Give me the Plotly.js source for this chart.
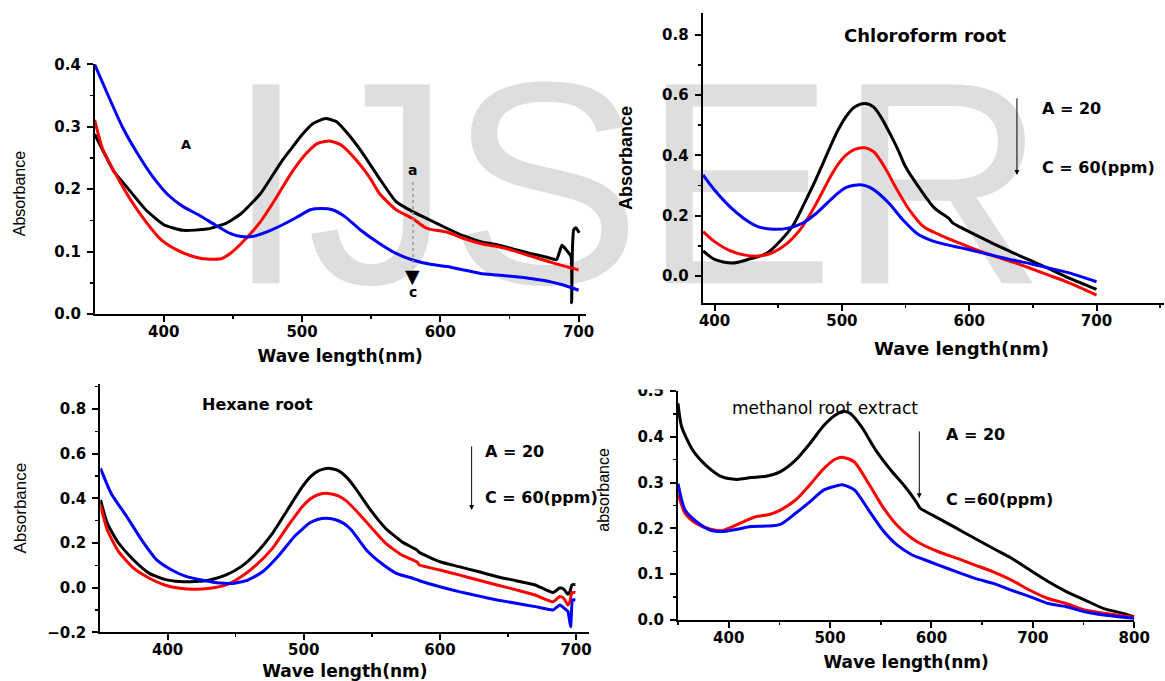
<!DOCTYPE html>
<html>
<head>
<meta charset="utf-8">
<script src="https://cdn.plot.ly/plotly-3.0.1.min.js"></script>
<style>
html, body { margin: 0; padding: 0; background: #ffffff; }
#chart { width: 1165px; height: 681px; }
</style>
</head>
<body>
<div id="chart"></div>
<script>
// ---------- Panel A (top-left): wavelength (nm) / absorbance ----------
const pAblackX = [350, 356, 364, 373, 387, 400, 414, 431, 445, 456, 470, 486, 494, 500, 508, 517, 525, 533, 544, 556, 568, 580, 592, 605, 617, 629, 641, 653, 665, 677, 684, 686, 688, 691, 694.5, 695, 695.5, 696.5, 698, 700.5];
const pAblackY = [0.288, 0.262, 0.228, 0.204, 0.167, 0.143, 0.134, 0.136, 0.145, 0.161, 0.193, 0.247, 0.270, 0.287, 0.305, 0.313, 0.308, 0.289, 0.257, 0.217, 0.180, 0.164, 0.151, 0.137, 0.125, 0.116, 0.111, 0.104, 0.097, 0.091, 0.087, 0.098, 0.110, 0.103, 0.092, 0.018, 0.100, 0.135, 0.138, 0.130];
const pAredX = [350, 356, 365, 376, 387, 398, 409, 420, 431, 442, 448, 456, 470, 481, 492, 503, 511, 520, 528, 539, 550, 556, 568, 580, 588, 592, 605, 617, 629, 641, 653, 665, 677, 689, 700];
const pAredY = [0.311, 0.263, 0.225, 0.183, 0.148, 0.119, 0.103, 0.093, 0.088, 0.089, 0.097, 0.113, 0.148, 0.185, 0.225, 0.257, 0.273, 0.277, 0.271, 0.247, 0.215, 0.193, 0.167, 0.153, 0.140, 0.136, 0.131, 0.121, 0.113, 0.108, 0.1015, 0.093, 0.085, 0.077, 0.0705];
const pAblueX = [350, 359, 370, 381, 392, 403, 414, 425, 437, 448, 456, 464, 475, 486, 497, 506, 514, 522, 531, 542, 556, 568, 580, 592, 605, 617, 629, 641, 653, 665, 677, 689, 700];
const pAblueY = [0.400, 0.354, 0.300, 0.257, 0.220, 0.191, 0.172, 0.159, 0.143, 0.129, 0.124, 0.124, 0.132, 0.143, 0.156, 0.167, 0.169, 0.167, 0.156, 0.135, 0.113, 0.097, 0.0865, 0.080, 0.076, 0.0705, 0.065, 0.0625, 0.060, 0.057, 0.053, 0.0465, 0.038];

// ---------- Chloroform root (top-right) ----------
const chlBlackX = [391, 400, 414, 428, 441, 452, 462, 471, 479, 485, 491, 497, 503, 510, 518, 525, 531, 539, 545, 550, 562, 573, 584, 587, 593, 607, 621, 635, 649, 663, 678, 700];
const chlBlackY = [0.083, 0.055, 0.043, 0.057, 0.075, 0.118, 0.170, 0.245, 0.315, 0.372, 0.430, 0.484, 0.527, 0.560, 0.572, 0.560, 0.525, 0.462, 0.410, 0.362, 0.285, 0.224, 0.191, 0.176, 0.162, 0.132, 0.103, 0.076, 0.050, 0.024, -0.006, -0.044];
const chlRedX = [391, 400, 412, 423, 434, 446, 457, 469, 480, 491, 497, 503, 510, 518, 525, 530, 536, 542, 553, 564, 576, 587, 593, 607, 621, 635, 649, 663, 678, 700];
const chlRedY = [0.147, 0.114, 0.084, 0.070, 0.066, 0.078, 0.108, 0.164, 0.241, 0.329, 0.370, 0.400, 0.420, 0.425, 0.412, 0.385, 0.343, 0.296, 0.219, 0.164, 0.138, 0.118, 0.108, 0.085, 0.064, 0.045, 0.024, 0.002, -0.022, -0.063];
const chlBlueX = [391, 400, 412, 423, 434, 446, 457, 469, 480, 491, 497, 503, 510, 516, 522, 528, 537, 548, 559, 570, 582, 593, 607, 621, 635, 649, 663, 677, 700];
const chlBlueY = [0.335, 0.285, 0.230, 0.191, 0.164, 0.155, 0.158, 0.175, 0.208, 0.252, 0.275, 0.293, 0.301, 0.302, 0.294, 0.277, 0.241, 0.186, 0.141, 0.118, 0.104, 0.094, 0.080, 0.066, 0.052, 0.040, 0.026, 0.012, -0.019];

// ---------- Hexane root (bottom-left) ----------
const hexBlackX = [350.7, 355.7, 364, 375, 386.6, 397.8, 409, 420, 431, 443, 454, 465, 477, 488, 499, 505, 511, 518, 525, 531, 538, 549, 560, 572, 583, 585, 600, 614, 628, 642, 656, 670, 683, 688, 691, 694, 695.5, 697, 699.5];
const hexBlackY = [0.393, 0.288, 0.199, 0.124, 0.064, 0.037, 0.027, 0.027, 0.034, 0.057, 0.094, 0.154, 0.243, 0.348, 0.452, 0.497, 0.524, 0.535, 0.525, 0.497, 0.445, 0.348, 0.266, 0.206, 0.169, 0.157, 0.116, 0.094, 0.072, 0.049, 0.031, 0.012, -0.022, -0.002, -0.007, -0.030, -0.018, 0.012, 0.014];
const hexRedX = [350.7, 355.7, 364, 375, 386.6, 397.8, 409, 420, 431, 443, 454, 465, 477, 488, 499, 505, 511, 518, 525, 531, 538, 549, 560, 572, 583, 585, 600, 614, 628, 642, 656, 670, 683, 688, 691, 694, 695.5, 697, 699.5];
const hexRedY = [0.370, 0.258, 0.161, 0.087, 0.042, 0.012, -0.003, -0.007, -0.003, 0.012, 0.049, 0.101, 0.176, 0.273, 0.363, 0.398, 0.417, 0.422, 0.412, 0.390, 0.348, 0.273, 0.199, 0.146, 0.116, 0.101, 0.079, 0.057, 0.034, 0.012, -0.010, -0.033, -0.063, -0.040, -0.048, -0.078, -0.063, -0.022, -0.022];
const hexBlueX = [350.7, 358.5, 370, 381, 392, 403, 414, 425, 436, 448, 459, 470, 481, 493, 499, 504, 510, 517, 524, 530, 535, 546, 557, 568, 580, 585, 600, 614, 628, 642, 656, 670, 683, 688, 691.5, 694, 696, 697.5, 699.5];
const hexBlueY = [0.534, 0.422, 0.318, 0.213, 0.124, 0.079, 0.049, 0.034, 0.022, 0.019, 0.034, 0.072, 0.139, 0.228, 0.262, 0.288, 0.305, 0.311, 0.303, 0.285, 0.258, 0.169, 0.109, 0.064, 0.042, 0.031, 0.004, -0.018, -0.037, -0.055, -0.070, -0.085, -0.100, -0.078, -0.093, -0.107, -0.175, -0.055, -0.055];

// ---------- methanol root extract (bottom-right) ----------
const metBlackX = [350, 353.6, 364.5, 379, 393, 408, 422, 437, 451, 466, 480, 494, 505, 513, 520, 531, 545, 560, 574, 585, 589, 607, 625, 643, 661, 679, 697, 715, 733, 751, 770, 788, 800];
const metBlackY = [0.473, 0.422, 0.371, 0.335, 0.313, 0.307, 0.311, 0.314, 0.324, 0.349, 0.385, 0.425, 0.447, 0.456, 0.451, 0.422, 0.371, 0.327, 0.291, 0.258, 0.244, 0.222, 0.200, 0.178, 0.156, 0.135, 0.109, 0.084, 0.062, 0.044, 0.025, 0.015, 0.007];
const metRedX = [350, 357, 368, 382, 393, 404, 415, 426, 441, 451, 466, 480, 494, 505, 513, 524, 538, 552, 566, 581, 589, 607, 625, 643, 661, 679, 697, 715, 733, 751, 770, 800];
const metRedY = [0.276, 0.233, 0.211, 0.198, 0.195, 0.204, 0.215, 0.225, 0.231, 0.240, 0.262, 0.295, 0.331, 0.351, 0.355, 0.345, 0.298, 0.247, 0.207, 0.178, 0.167, 0.149, 0.135, 0.120, 0.105, 0.087, 0.065, 0.047, 0.036, 0.022, 0.015, 0.006];
const metBlueX = [350, 357, 368, 382, 393, 408, 422, 437, 451, 466, 480, 494, 505, 513, 524, 538, 552, 566, 581, 589, 607, 625, 643, 661, 679, 697, 715, 733, 751, 770, 800];
const metBlueY = [0.298, 0.240, 0.215, 0.196, 0.193, 0.198, 0.204, 0.205, 0.209, 0.233, 0.258, 0.284, 0.292, 0.295, 0.284, 0.240, 0.196, 0.164, 0.142, 0.135, 0.120, 0.105, 0.091, 0.080, 0.065, 0.051, 0.036, 0.029, 0.018, 0.011, 0.004];

// ---------- texts ----------
const xTitle = "Wave length(nm)";
const yTitles = ["Absorbance", "Absorbance", "Absorbance", "absorbance"];
const panelTitles = ["A", "Chloroform root", "Hexane root", "methanol root extract"];
const concTop = "A = 20";
const concBottom = ["C = 60(ppm)", "C = 60(ppm)", "C =60(ppm)"];
const watermarkLetters = ["I", "J", "S", "E", "R"];

// ---------- styling ----------
const BOLD = "DejaVu Sans";
const SANS = "Liberation Sans, Arial, sans-serif";
const COLORS = { black: "#000000", red: "#ff0000", blue: "#0000ff" };
const W = 1165, H = 681;
// leading / trailing padding used only to nudge a centred axis title along its axis
const padL = (n, s) => "\u200b" + "\u00a0".repeat(n) + s;
const padR = (s, n) => s + "\u00a0".repeat(n) + "\u200b";

function line(x, y, color, xa, ya, sm) {
  return { x: x, y: y, xaxis: xa, yaxis: ya, type: "scatter", mode: "lines",
    line: { color: color, width: 3, shape: "spline", smoothing: sm },
    hoverinfo: "skip", showlegend: false };
}

const watermarkPos = [266, 379, 545, 738.5, 942];
const traces = [
  { x: watermarkPos, y: watermarkPos.map(() => 211), text: watermarkLetters, mode: "text",
    type: "scatter", xaxis: "x", yaxis: "y", textposition: "middle center",
    textfont: { family: SANS, size: 289, color: "#dedede" }, hoverinfo: "skip", showlegend: false },
  line(pAblackX, pAblackY, COLORS.black, "x2", "y2", 0.5),
  line(pAredX, pAredY, COLORS.red, "x2", "y2", 0.6),
  line(pAblueX, pAblueY, COLORS.blue, "x2", "y2", 0.6),
  line(chlBlackX, chlBlackY, COLORS.black, "x3", "y3", 0.8),
  line(chlRedX, chlRedY, COLORS.red, "x3", "y3", 0.8),
  line(chlBlueX, chlBlueY, COLORS.blue, "x3", "y3", 0.8),
  line(hexBlackX, hexBlackY, COLORS.black, "x4", "y4", 0.5),
  line(hexRedX, hexRedY, COLORS.red, "x4", "y4", 0.5),
  line(hexBlueX, hexBlueY, COLORS.blue, "x4", "y4", 0.5),
  line(metBlackX, metBlackY, COLORS.black, "x5", "y5", 0.7),
  line(metRedX, metRedY, COLORS.red, "x5", "y5", 0.7),
  line(metBlueX, metBlueY, COLORS.blue, "x5", "y5", 0.7)
];

function px2dom(a, b, total) { return [a / total, b / total]; }
function py2dom(top, bottom) { return [1 - bottom / H, 1 - top / H]; }

const tickFont = { family: BOLD, size: 15, color: "#000", weight: "bold" };
function xAxis(dom, range, anchor, title, titleSize, standoff) {
  return { domain: dom, range: range, anchor: anchor, showline: true, linecolor: "#000", linewidth: 2,
    ticks: "outside", ticklen: 6, tickwidth: 2, tickcolor: "#000", tickmode: "linear", tick0: 0, dtick: 100,
    minor: { ticks: "outside", ticklen: 3, tickwidth: 1.5, tickcolor: "#000", dtick: 50, tick0: 0, showgrid: false },
    showgrid: false, zeroline: false, tickfont: tickFont, fixedrange: true, ticklabelstandoff: -3,
    title: { text: title, font: { family: BOLD, size: titleSize, color: "#000", weight: "bold" }, standoff: standoff } };
}
function yAxis(dom, range, anchor, dtick, mdtick, title, tfont, standoff) {
  return { domain: dom, range: range, anchor: anchor, showline: true, linecolor: "#000", linewidth: 2,
    ticks: "outside", ticklen: 6, tickwidth: 2, tickcolor: "#000", tickmode: "linear", tick0: 0, dtick: dtick,
    tickformat: ".1f", ticklabelstandoff: 3,
    minor: { ticks: "outside", ticklen: 3, tickwidth: 1.5, tickcolor: "#000", dtick: mdtick, tick0: 0, showgrid: false },
    showgrid: false, zeroline: false, tickfont: tickFont, fixedrange: true,
    title: { text: title, font: tfont, standoff: standoff } };
}

const boldAnn = (size) => ({ family: BOLD, size: size, color: "#000", weight: "bold" });

const layout = {
  width: W, height: H, autosize: false,
  margin: { l: 0, r: 0, t: 0, b: 0, pad: 0 },
  paper_bgcolor: "#ffffff", plot_bgcolor: "rgba(0,0,0,0)",
  showlegend: false,
  xaxis: { domain: [0, 1], range: [0, W], visible: false, fixedrange: true },
  yaxis: { domain: [0, 1], range: [H, 0], visible: false, fixedrange: true },
  // panel A
  xaxis2: xAxis(px2dom(94.9, 585.5, W), [350.2, 705], "y2", xTitle, 17, 10),
  yaxis2: yAxis(py2dom(64.3, 314), [0, 0.4], "x2", 0.1, 0.05, padR(yTitles[0], 2), { family: SANS, size: 16, color: "#000" }, 25),
  // chloroform
  xaxis3: xAxis(px2dom(702.7, 1164, W), [390.7, 753], "y3", padL(9, xTitle), 18, 13),
  yaxis3: yAxis(py2dom(13, 303), [-0.0895, 0.872], "x3", 0.2, 0.1, yTitles[1], { family: SANS, size: 18, color: "#000", weight: "bold" }, 25),
  // hexane
  xaxis4: xAxis(px2dom(100.3, 589.4, W), [350.55, 709.8], "y4", xTitle, 17, 10),
  yaxis4: yAxis(py2dom(384, 632.3), [-0.2, 0.912], "x4", 0.2, 0.1, yTitles[2], { family: SANS, size: 17, color: "#000" }, 16),
  // methanol
  xaxis5: xAxis(px2dom(678, 1134.2, W), [350, 800], "y5", xTitle, 17, 10),
  yaxis5: yAxis(py2dom(391, 620), [0, 0.5], "x5", 0.1, 0.05, padL(7, yTitles[3]), { family: SANS, size: 16, color: "#000" }, 24),
  shapes: [
    { type: "line", xref: "x2", yref: "y2", x0: 580.2, x1: 580.2, y0: 0.2115, y1: 0.0753,
      line: { color: "#999999", width: 1.5, dash: "dot" } },
    { type: "rect", xref: "paper", yref: "paper", x0: 622 / W, x1: 672 / W, y0: 1 - 389.5 / H, y1: 1 - 375 / H,
      line: { width: 0 }, fillcolor: "#ffffff", layer: "above" }
  ],
  annotations: [
    // panel A
    { xref: "x2", yref: "y2", x: 416.3, y: 0.272, text: panelTitles[0], showarrow: false, font: boldAnn(13) },
    { xref: "x2", yref: "y2", x: 580.2, y: 0.2307, text: "a", showarrow: false, font: boldAnn(14) },
    { xref: "x2", yref: "y2", x: 580.2, y: 0.061, text: "▼", showarrow: false, font: { family: BOLD, size: 19, color: "#000" } },
    { xref: "x2", yref: "y2", x: 580.2, y: 0.0357, text: "c", showarrow: false, font: boldAnn(14) },
    // chloroform
    { xref: "x3", yref: "y3", x: 565.6, y: 0.796, text: panelTitles[1], showarrow: false, font: boldAnn(18) },
    { xref: "x3", yref: "y3", x: 655.9, y: 0.554, xanchor: "left", text: concTop, showarrow: false, font: boldAnn(16) },
    { xref: "x3", yref: "y3", x: 655.9, y: 0.361, xanchor: "left", text: concBottom[0], showarrow: false, font: boldAnn(16) },
    { xref: "x3", yref: "y3", x: 637.5, y: 0.335, axref: "x3", ayref: "y3", ax: 637.5, ay: 0.594, text: "",
      showarrow: true, arrowhead: 2, arrowsize: 1, arrowwidth: 1, arrowcolor: "#000" },
    // hexane
    { xref: "x4", yref: "y4", x: 466.3, y: 0.818, text: panelTitles[2], showarrow: false, font: boldAnn(16) },
    { xref: "x4", yref: "y4", x: 631.8, y: 0.609, xanchor: "left", text: concTop, showarrow: false, font: boldAnn(16) },
    { xref: "x4", yref: "y4", x: 631.8, y: 0.403, xanchor: "left", text: concBottom[1], showarrow: false, font: boldAnn(16) },
    { xref: "x4", yref: "y4", x: 623.3, y: 0.348, axref: "x4", ayref: "y4", ax: 623.3, ay: 0.639, text: "",
      showarrow: true, arrowhead: 2, arrowsize: 1, arrowwidth: 1, arrowcolor: "#000" },
    // methanol
    { xref: "x5", yref: "y5", x: 494.8, y: 0.4635, text: panelTitles[3], showarrow: false, font: { family: BOLD, size: 17, color: "#000" } },
    { xref: "x5", yref: "y5", x: 612.4, y: 0.406, xanchor: "left", text: concTop, showarrow: false, font: boldAnn(16) },
    { xref: "x5", yref: "y5", x: 612.4, y: 0.2635, xanchor: "left", text: concBottom[2], showarrow: false, font: boldAnn(16) },
    { xref: "x5", yref: "y5", x: 588, y: 0.266, axref: "x5", ayref: "y5", ax: 588, ay: 0.415, text: "",
      showarrow: true, arrowhead: 2, arrowsize: 1, arrowwidth: 1, arrowcolor: "#000" }
  ]
};

Plotly.newPlot("chart", traces, layout, { staticPlot: true, displayModeBar: false });
</script>
</body>
</html>
